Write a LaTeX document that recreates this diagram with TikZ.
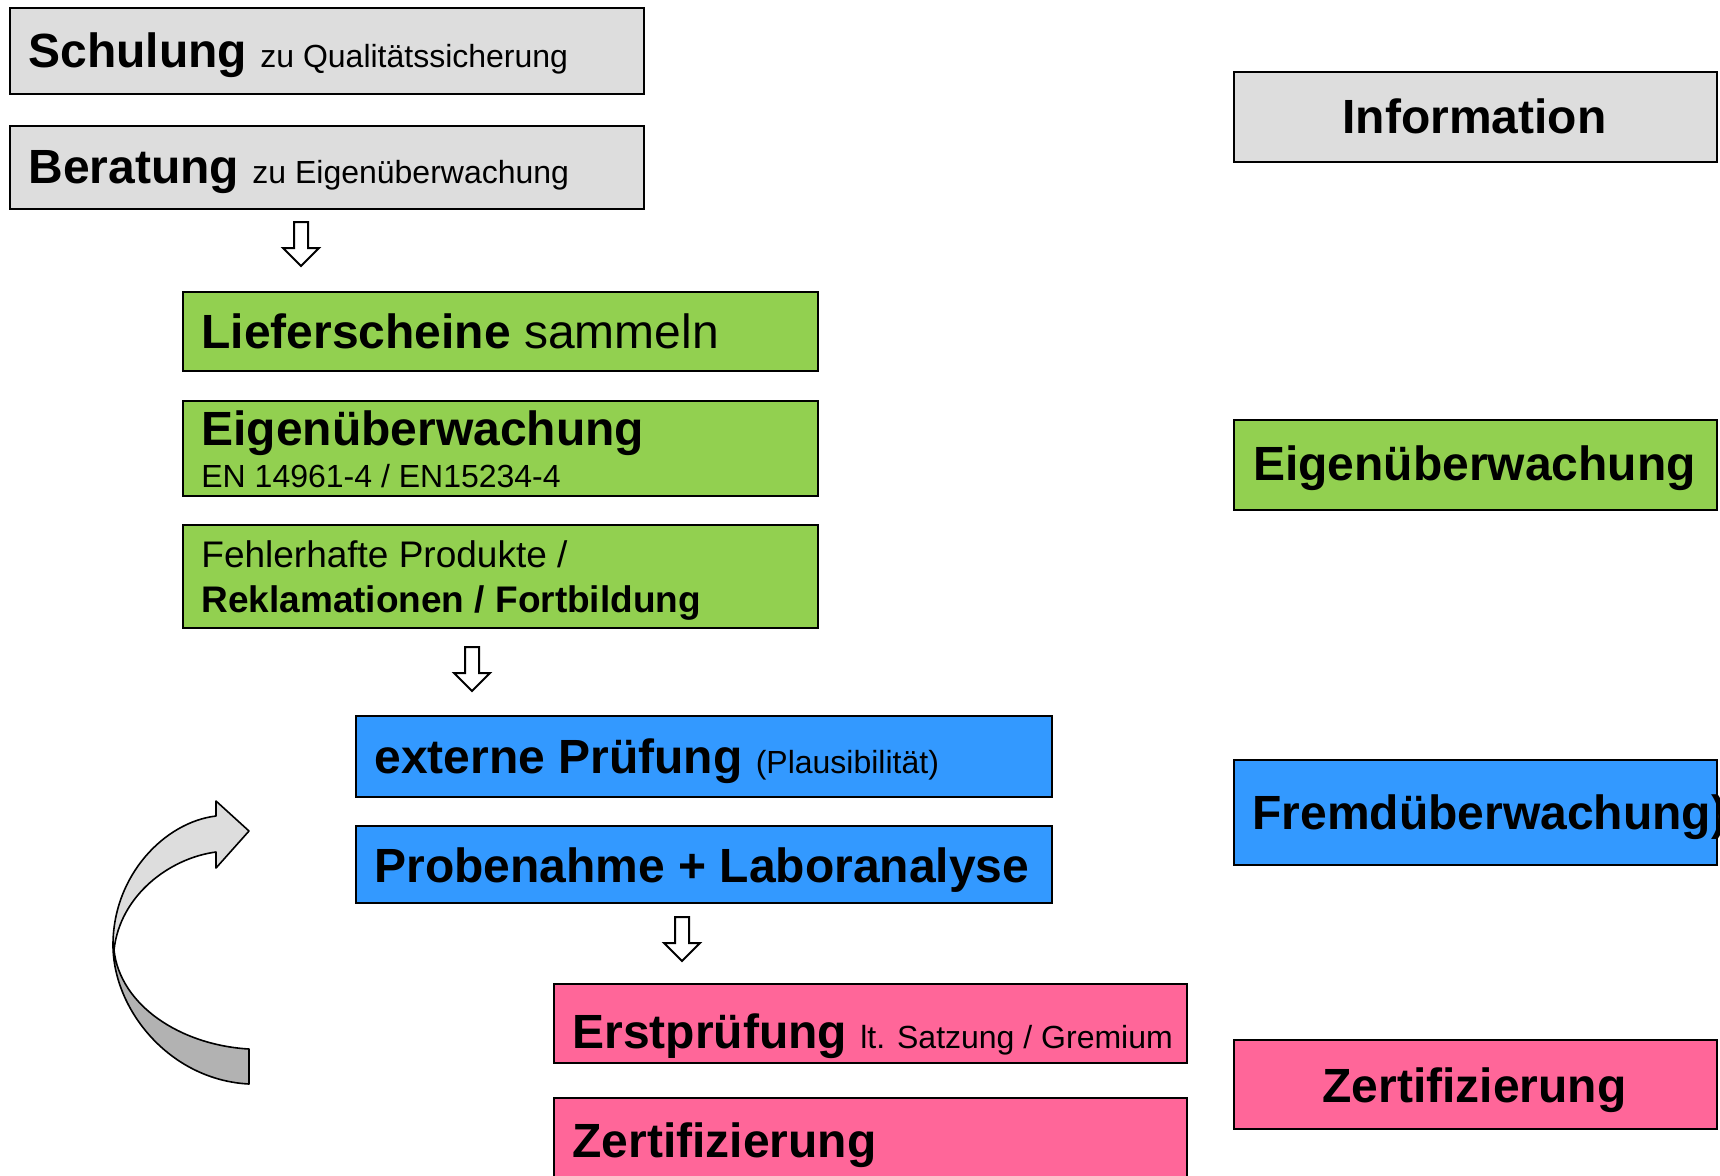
\documentclass[tikz,border=0pt]{standalone}
\usepackage{fontspec}
\setmainfont{Liberation Sans}
\definecolor{boxgray}{HTML}{DDDDDD}
\definecolor{boxgreen}{HTML}{92D050}
\definecolor{boxblue}{HTML}{3399FF}
\definecolor{boxpink}{HTML}{FF6699}
\definecolor{arrlight}{HTML}{DDDDDD}
\definecolor{arrdark}{HTML}{B2B2B2}
\newcommand\txtbig{\fontsize{24}{28}\selectfont\bfseries}
\newcommand\txtsmall{\fontsize{16}{19}\selectfont\mdseries}
\newcommand\txtmid{\fontsize{18.5}{22}\selectfont}
\begin{document}
\begin{tikzpicture}[x=0.5pt,y=-0.5pt,
  box/.style={draw=black, line width=1pt, inner sep=0pt, anchor=north west},
  txt/.style={anchor=base west, inner sep=0pt},
  ctxt/.style={anchor=base, inner sep=0pt},
  curv/.style={draw=black, line width=0.8pt, line join=round},
  downarrow/.pic={\draw[fill=white, line width=1pt, line join=miter]
     (-3.5pt,0) -- (3.5pt,0) -- (3.5pt,-13pt) -- (9pt,-13pt) -- (0,-22pt)
     -- (-9pt,-13pt) -- (-3.5pt,-13pt) -- cycle;}
]
\useasboundingbox (0,0) rectangle (1720,1175);
\fill[white] (0,0) rectangle (1720,1175);

% left column boxes
\node[box, fill=boxgray, minimum width=317pt, minimum height=43pt] (schulung) at (9,7) {};
\node[box, fill=boxgray, minimum width=317pt, minimum height=41.5pt] (beratung) at (9,125) {};
\node[box, fill=boxgreen, minimum width=317.5pt, minimum height=39.5pt] (liefer) at (182,291) {};
\node[box, fill=boxgreen, minimum width=317.5pt, minimum height=47.5pt] (eigen) at (182,400) {};
\node[box, fill=boxgreen, minimum width=317.5pt, minimum height=51.5pt] (fehler) at (182,524) {};
\node[box, fill=boxblue, minimum width=348pt, minimum height=40.5pt] (extern) at (355,715) {};
\node[box, fill=boxblue, minimum width=348pt, minimum height=38.5pt] (probe) at (355,825) {};
\node[box, fill=boxpink, minimum width=316.5pt, minimum height=39.5pt] (erst) at (553,983) {};
\node[box, fill=boxpink, minimum width=316.5pt, minimum height=55pt] (zert) at (553,1097) {};

% right column boxes
\node[box, fill=boxgray, minimum width=241.5pt, minimum height=45pt] (info) at (1233,71) {};
\node[box, fill=boxgreen, minimum width=241.5pt, minimum height=45pt] (eigenR) at (1233,419) {};
\node[box, fill=boxblue, minimum width=241.5pt, minimum height=52.5pt] (fremd) at (1233,759) {};
\node[box, fill=boxpink, minimum width=241.5pt, minimum height=44.5pt] (zertR) at (1233,1039) {};

% texts left
\node[txt] (t1) at (28,67) {\txtbig Schulung {\txtsmall zu Qualitätssicherung}};
\node[txt] (t2) at (28,183) {\txtbig Beratung {\txtsmall zu Eigenüberwachung}};
\node[txt] (t3) at (201,348) {\txtbig Lieferscheine {\mdseries sammeln}};
\node[txt] (t4) at (201,445) {\txtbig Eigenüberwachung};
\node[txt] (t5) at (201,487) {\txtsmall EN 14961-4 / EN15234-4};
\node[txt] (t6) at (201,567) {\txtmid Fehlerhafte Produkte /};
\node[txt] (t7) at (201,612) {\txtmid\bfseries Reklamationen / Fortbildung};
\node[txt] (t8) at (374,773) {\txtbig externe Prüfung {\txtsmall (Plausibilität)}};
\node[txt] (t9) at (374,882) {\txtbig Probenahme + Laboranalyse};
\node[txt] (t10) at (572,1048) {\txtbig Erstprüfung {\txtsmall lt. Satzung / Gremium}};
\node[txt] (t11) at (572,1157) {\txtbig Zertifizierung};

% texts right
\node[ctxt] (t12) at (1474.5,133) {\txtbig Information};
\node[ctxt] (t13) at (1474.5,480) {\txtbig Eigenüberwachung};
\node[txt] (t14) at (1252,829) {\txtbig Fremdüberwachung)};
\node[ctxt] (t15) at (1474.5,1102) {\txtbig Zertifizierung};

% hollow down arrows
\pic (a1) at (301,222) {downarrow};
\pic (a2) at (472,647) {downarrow};
\pic (a3) at (682,917) {downarrow};

% curved arrow
\draw[curv, fill=arrdark] (113,945) .. controls (113,1010) and (170,1080) .. (249,1084)
  -- (249,1049) .. controls (180,1045) and (120,1005) .. (114,950) -- cycle;
\draw[curv, fill=arrlight] (216,816) -- (216,801) -- (249,831) -- (216,868) -- (216,852)
  .. controls (170,858) and (120,895) .. (114,950) -- (113,945)
  .. controls (113,875) and (165,822) .. (216,816) -- cycle;
\end{tikzpicture}
\end{document}
